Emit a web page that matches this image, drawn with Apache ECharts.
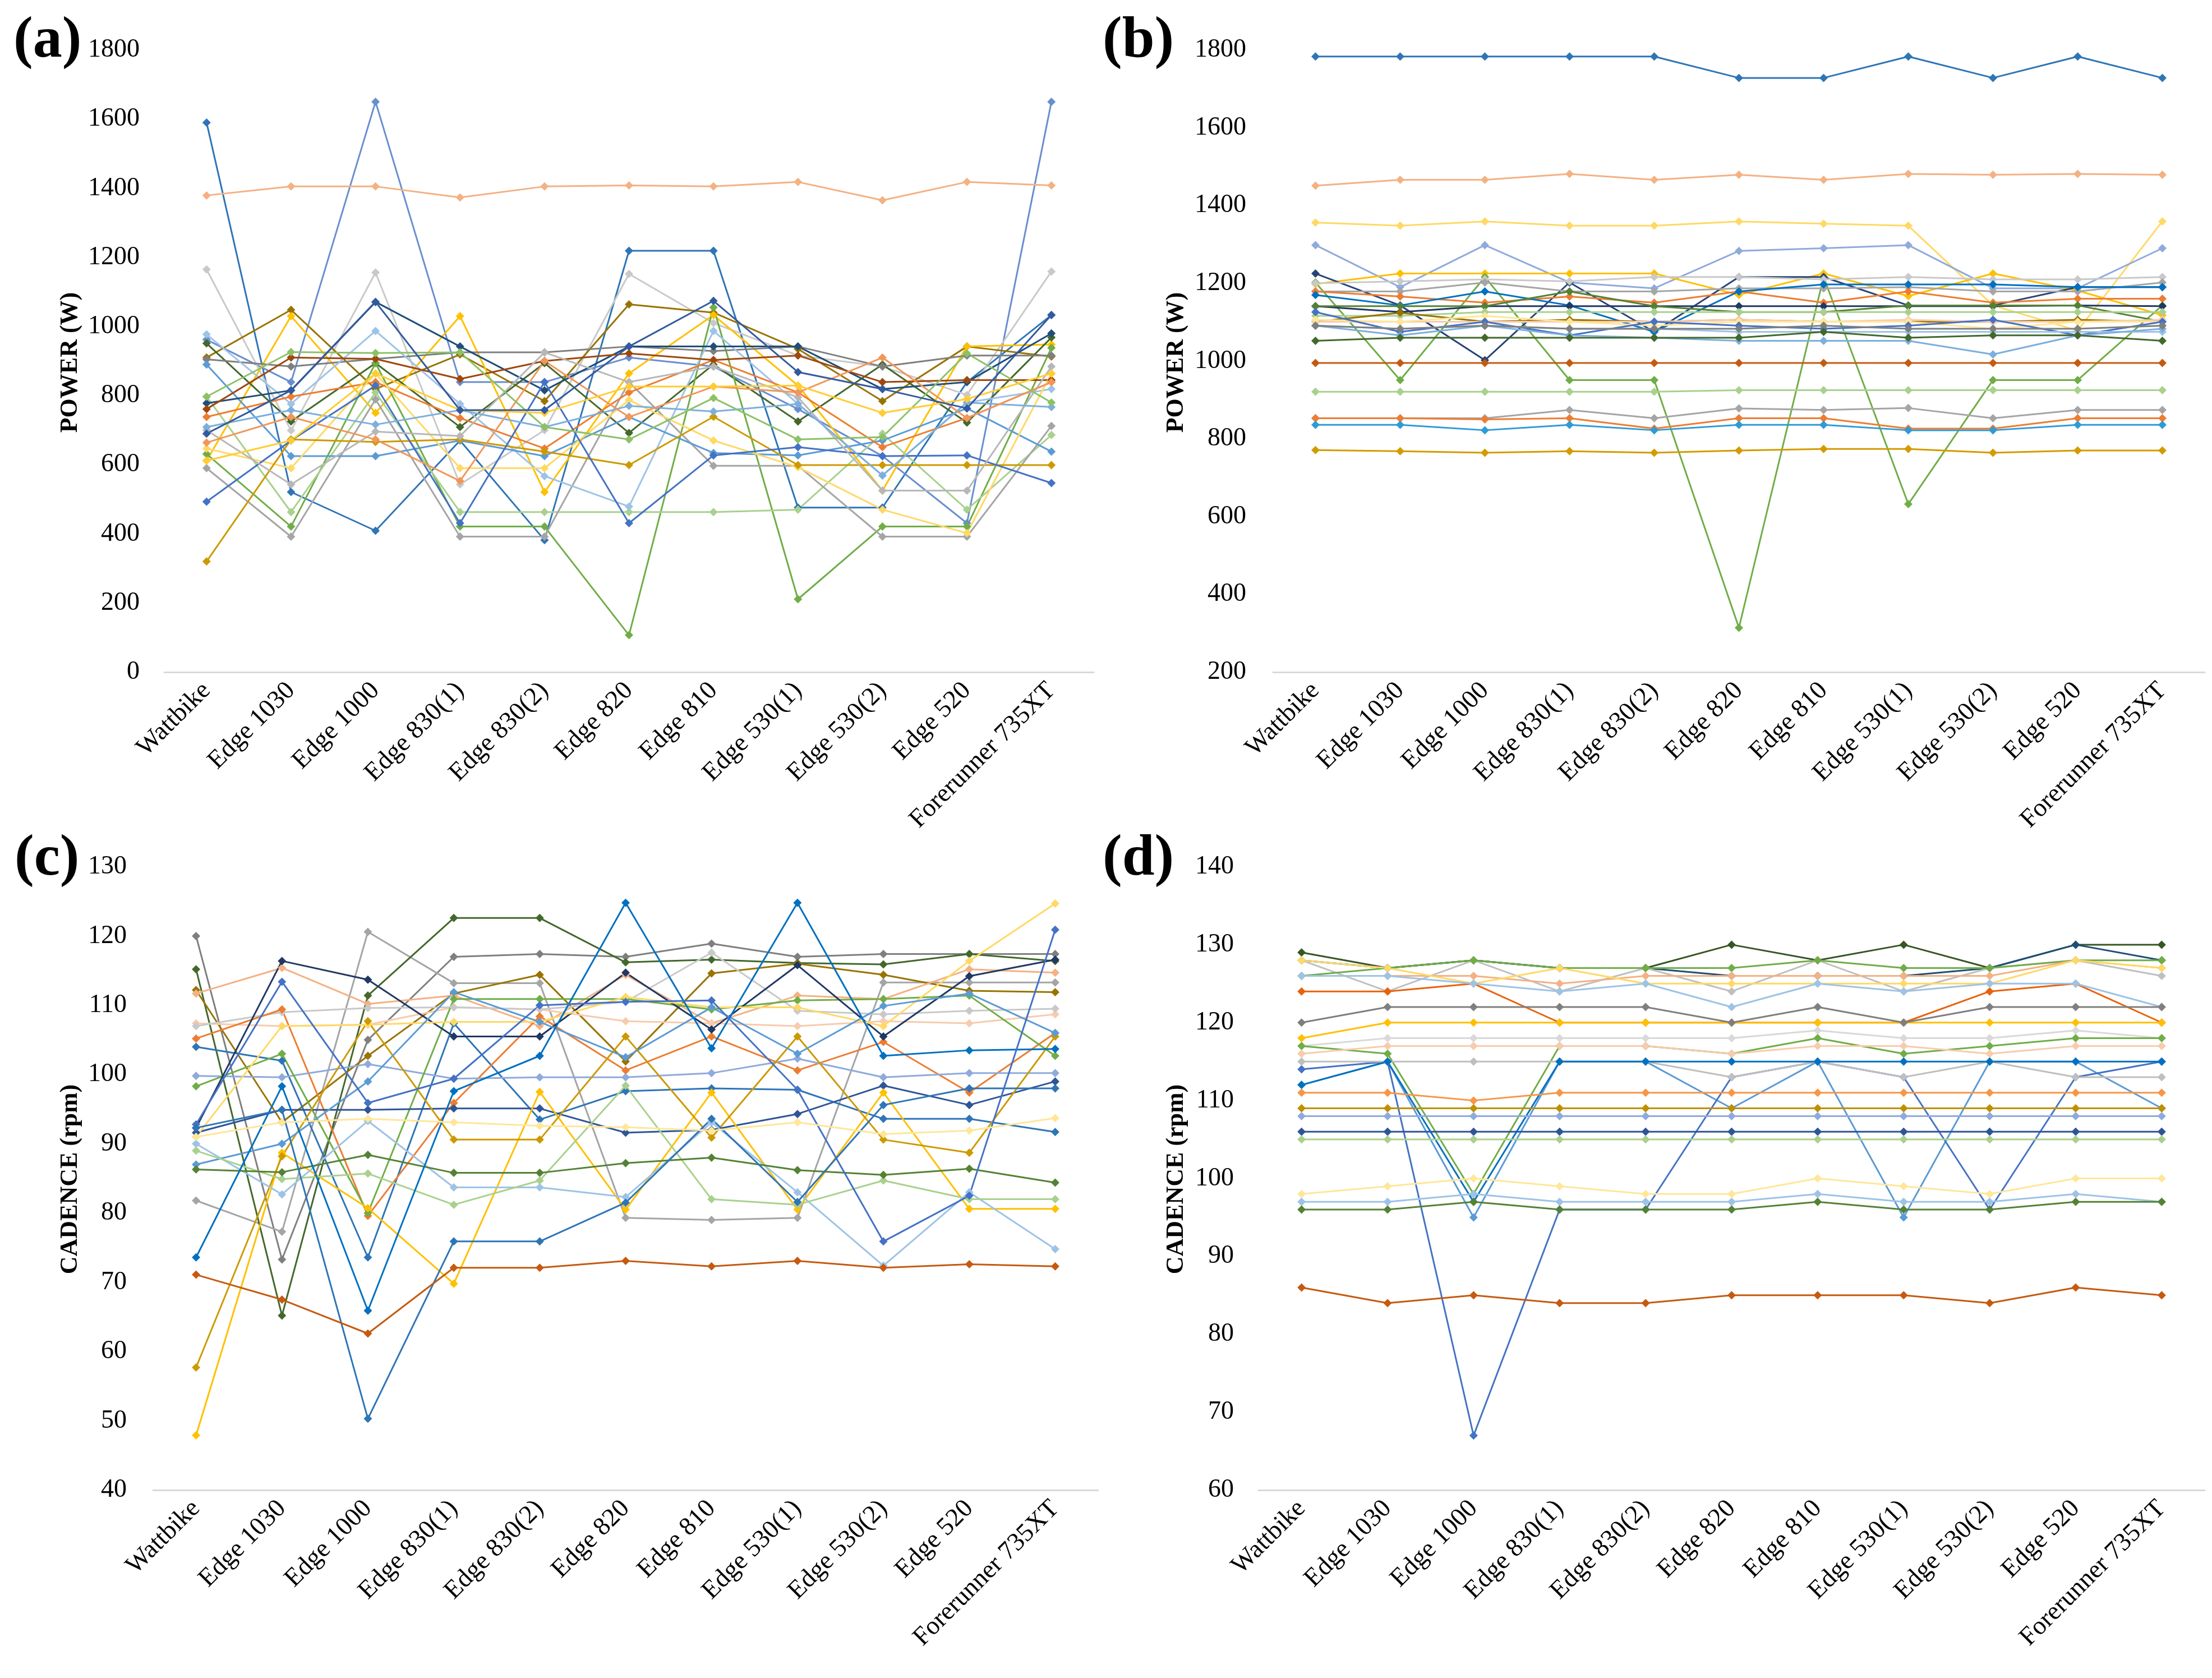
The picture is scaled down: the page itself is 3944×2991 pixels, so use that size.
<!DOCTYPE html>
<html><head><meta charset="utf-8">
<script src="https://cdn.jsdelivr.net/npm/echarts@6/dist/echarts.min.js"></script>
<style>html,body{margin:0;padding:0;background:#fff}#c{width:3944px;height:2991px}</style>
</head><body><div id="c"></div>
<script>
const categories = ["Wattbike","Edge 1030","Edge 1000","Edge 830(1)","Edge 830(2)","Edge 820","Edge 810","Edge 530(1)","Edge 530(2)","Edge 520","Forerunner 735XT"];

const powerTicksA = [0,1800,200];
const powerTicksB = [200,1800,200];
const cadenceTicksC = [40,130,10];
const cadenceTicksD = [60,140,10];

const powerA = [
[1590,521,409,670,382,1219,1219,476,476,839,1033],
[962,839,1650,839,839,910,884,761,625,431,1650],
[1379,1405,1405,1373,1405,1408,1405,1418,1365,1418,1408],
[1165,699,1156,543,700,1152,1010,916,884,802,1159],
[910,1048,819,919,784,1064,1040,935,784,942,913],
[612,1030,750,1030,521,864,1033,829,525,942,948],
[951,725,894,709,894,692,890,725,890,722,968],
[631,421,894,421,421,107,1055,211,421,421,938],
[797,463,809,463,463,463,463,470,690,470,686],
[905,884,906,925,925,942,929,942,884,916,916],
[590,392,789,392,392,839,597,597,392,392,712],
[977,776,987,776,567,479,987,776,569,780,819],
[890,625,625,670,625,738,634,627,670,763,638],
[738,797,839,735,647,809,903,809,651,735,839],
[778,815,1071,942,815,942,942,942,819,839,980],
[761,910,906,848,900,922,903,916,839,845,845],
[647,590,864,590,590,787,670,593,470,402,864],
[320,673,666,673,638,599,739,599,599,599,599],
[493,670,829,431,839,431,627,651,625,627,547],
[700,543,696,683,925,839,884,795,525,525,884],
[709,758,716,758,709,770,754,776,569,780,767],
[664,738,673,553,900,738,826,809,910,735,839],
[797,926,923,925,709,673,793,673,680,922,780],
[612,670,864,758,750,826,826,829,750,790,864],
[690,815,1071,758,758,942,1074,868,819,763,1033]
];
const colorsA = ["#2E75B6","#698ED0","#F4B183","#C9C9C9","#997300","#FFC000","#43682B","#70AD47","#A9D18E","#7F7F7F","#A5A5A5","#9DC3E6","#5B9BD5","#ED7D31","#1F4E79","#9E480E","#FFD966","#CC9A00","#4472C4","#B7B7B7","#7CAFDD","#F1975A","#8CC168","#FFCD33","#335AA1"];

const powerB = [
[1783,1783,1783,1783,1783,1728,1728,1783,1728,1783,1728],
[1451,1466,1466,1481,1466,1479,1466,1481,1479,1481,1479],
[1356,1348,1359,1348,1348,1359,1353,1348,1143,1078,1359],
[1298,1190,1298,1202,1187,1283,1290,1298,1187,1187,1290],
[1198,1225,1225,1225,1225,1170,1225,1167,1225,1181,1118],
[1202,951,1216,951,951,314,1216,632,951,951,1143],
[1225,1143,1002,1202,1075,1216,1216,1143,1143,1190,1190],
[1200,1205,1210,1205,1216,1216,1210,1216,1210,1210,1216],
[1179,1179,1202,1179,1179,1187,1187,1190,1179,1179,1202],
[1179,1166,1150,1166,1150,1179,1150,1179,1150,1160,1160],
[1170,1143,1179,1143,1075,1179,1197,1197,1197,1190,1190],
[1141,1126,1141,1141,1141,1141,1141,1141,1141,1143,1141],
[1141,1141,1141,1179,1141,1126,1126,1143,1143,1143,1101],
[1116,1116,1126,1126,1126,1126,1126,1126,1126,1126,1126],
[1101,1124,1101,1106,1101,1106,1101,1101,1101,1106,1101],
[1101,1101,1101,1101,1101,1106,1101,1106,1101,1101,1106],
[1106,1101,1116,1101,1091,1101,1101,1101,1083,1101,1101],
[1126,1075,1101,1066,1101,1091,1083,1091,1106,1066,1101],
[1091,1083,1091,1083,1083,1075,1075,1075,1075,1075,1075],
[1091,1066,1091,1066,1060,1052,1052,1052,1017,1066,1083],
[1091,1083,1091,1083,1083,1083,1091,1083,1083,1083,1091],
[1052,1060,1060,1060,1060,1060,1075,1060,1066,1066,1052],
[995,995,995,995,995,995,995,995,995,995,995],
[921,921,921,921,921,925,925,925,925,925,925],
[853,853,853,874,853,878,874,879,853,874,874],
[853,853,850,853,826,853,853,826,826,853,853],
[836,836,822,836,822,836,836,822,822,836,836],
[771,768,764,768,764,770,774,774,764,770,770]
];
const colorsB = ["#2E75B6","#F4B183","#FFD966","#8FAADC","#FFC000","#70AD47","#264478","#C9C9C9","#A5A5A5","#ED7D31","#0070C0","#203864","#548235","#A9D18E","#997300","#F8CBAD","#FFE699","#4472C4","#9DC3E6","#7CAFDD","#7F7F7F","#43682B","#C55A11","#A9D18E","#A5A5A5","#ED7D31","#2E9BD6","#D49B00"];

const cadenceC = [
[120,73.3,105,117,117.4,117,118.9,117,117.4,117.4,117.4],
[81.8,77.3,120.6,113.2,113.2,79.3,79,79.3,113.3,113.3,113.3],
[115.2,65.2,111.4,122.6,122.6,116.2,116.6,116.1,115.9,117.4,116.4],
[112.2,93.1,102.7,111.7,114.4,101.9,114.6,116,114.4,112.1,111.9],
[111.7,115.4,110.2,111.4,107,114.4,107.4,111.4,110.9,115.2,114.7],
[107.4,107,107.2,109.7,109.4,107.7,107.4,107,107.7,107.4,108.7],
[107,109,109.6,109.7,109.4,110.5,117.6,109.2,108.7,109.2,109.5],
[104,102,73.6,107.4,93.5,97.6,98,97.8,93.6,93.6,91.7],
[105.2,109.4,79.6,95.9,108.4,100.6,105.5,100.6,104.7,97.4,106],
[99.8,99.6,101.5,99.4,99.6,99.6,100.2,102.3,99.6,100.2,100.2],
[98.3,103,80,110.9,110.9,110.9,109.4,110.7,110.9,111.4,102.7],
[92.3,116.4,113.7,105.5,105.5,114.7,106.5,115.8,105.5,114.2,116.6],
[91.6,94.9,94.9,95.1,95.1,91.6,92,94.3,98.4,95.6,99],
[47.9,88.7,80.7,69.8,97.5,80.5,97.4,80.5,97.4,80.6,80.6],
[91,107,107.2,107.6,107.6,111.2,109.7,109.7,107,116.4,124.7],
[57.7,88.2,107.7,90.6,90.6,105.5,90.9,105.5,90.6,88.7,105.5],
[90,82.7,93.3,83.7,83.7,82.3,93.1,83,72.4,83,74.8],
[87,90,99,111.9,107.6,102.5,109.7,103,109.9,111.7,106],
[89,84.9,85.7,81.2,84.7,98.4,82,81.2,84.7,82,82],
[86.3,85.9,88.4,85.8,85.8,87.2,88,86.2,85.5,86.4,84.4],
[73.6,98.3,65.9,97.6,102.7,124.8,103.8,124.8,102.7,103.5,103.7],
[92.8,113.4,95.9,99.4,110,110.5,110.7,97.8,75.9,82.5,120.9],
[92.3,94.9,50.3,75.9,75.9,81.5,93.6,81.6,95.6,98,98],
[71.1,67.5,62.6,72.1,72.1,73.1,72.3,73.1,72.1,72.6,72.3],
[91,93.1,93.6,93.1,92.6,92.4,91.9,93.1,91.4,91.9,93.7]
];
const colorsC = ["#7F7F7F","#A5A5A5","#43682B","#997300","#F4B183","#F8CBAD","#C9C9C9","#2E75B6","#ED7D31","#8FAADC","#70AD47","#203864","#2F5597","#FFC000","#FFD966","#CC9A00","#9DC3E6","#5B9BD5","#A9D18E","#548235","#0070C0","#4472C4","#2E75B6","#C55A11","#FFE699"];

const cadenceD = [
[129,127,128,127,127,130,128,130,127,130,130],
[128,127,128,127,127,126,126,126,127,130,128],
[128,124,128,124,127,124,128,124,127,128,126],
[126,127,128,127,127,127,128,127,127,128,128],
[126,126,126,125,126,126,126,126,126,128,127],
[124,124,125,120,120,120,120,120,124,125,120],
[118,120,120,120,120,120,120,120,120,120,120],
[128,127,125,127,125,125,125,125,125,128,127],
[126,126,125,124,125,122,125,124,125,125,122],
[120,122,122,122,122,120,122,120,122,122,122],
[117,118,118,118,118,118,119,118,118,119,118],
[117,116,98,117,117,116,118,116,117,118,118],
[116,117,117,117,117,116,117,117,116,117,117],
[112,115,95,115,115,109,115,95,115,115,109],
[114,115,67,96,96,113,115,113,96,113,115],
[115,115,115,115,115,113,115,113,115,113,113],
[112,115,97,115,115,115,115,115,115,115,115],
[111,111,110,111,111,111,111,111,111,111,111],
[109,109,109,109,109,109,109,109,109,109,109],
[108,108,108,108,108,108,108,108,108,108,108],
[106,106,106,106,106,106,106,106,106,106,106],
[105,105,105,105,105,105,105,105,105,105,105],
[98,99,100,99,98,98,100,99,98,100,100],
[97,97,98,97,97,97,98,97,97,98,97],
[96,96,97,96,96,96,97,96,96,97,97],
[86,84,85,84,84,85,85,85,84,86,85]
];
const colorsD = ["#375623","#1F4E79","#BFBFBF","#70AD47","#F4B183","#E8620C","#FFC000","#FFD966","#9DC3E6","#7F7F7F","#D9D9D9","#70AD47","#F8CBAD","#5B9BD5","#4472C4","#BFBFBF","#0070C0","#F79646","#BF9000","#8FAADC","#2F5597","#A9D18E","#FFE699","#9DC3E6","#548235","#C55A11"];

const chart = echarts.init(document.getElementById('c'), null, {renderer:'canvas'});
const FONT = "Liberation Serif";
const grids = [
  {left:293, top:89, width:1657, height:1109},
  {left:2270, top:89, width:1661, height:1109},
  {left:273, top:1545, width:1685, height:1111},
  {left:2244, top:1545, width:1687, height:1111}
];
const ticks = [powerTicksA, powerTicksB, cadenceTicksC, cadenceTicksD];
const datasets = [powerA, powerB, cadenceC, cadenceD];
const palettes = [colorsA, colorsB, colorsC, colorsD];
const labelMargins = [44, 48, 47, 44];

const xAxis = [], yAxis = [], series = [];
grids.forEach((g, i) => {
  xAxis.push({
    type:'category', gridIndex:i, data:categories, boundaryGap:true,
    axisLine:{show:true, lineStyle:{color:'#D9D9D9', width:3}},
    axisTick:{show:false},
    axisLabel:{interval:0, rotate:45, fontFamily:FONT, fontSize:46, color:'#000', margin:26}
  });
  yAxis.push({
    type:'value', gridIndex:i, min:ticks[i][0], max:ticks[i][1], interval:ticks[i][2],
    splitLine:{show:false}, axisLine:{show:false}, axisTick:{show:false},
    axisLabel:{fontFamily:FONT, fontSize:46, color:'#000', margin:labelMargins[i], formatter:(v)=>String(v)}
  });
  datasets[i].forEach((vals, k) => {
    const col = palettes[i][k % palettes[i].length];
    series.push({
      type:'line', xAxisIndex:i, yAxisIndex:i, data:vals,
      symbol:'diamond', symbolSize:15, showSymbol:true,
      lineStyle:{width:3, color:col}, itemStyle:{color:col},
      emphasis:{disabled:true}, animation:false, z:2
    });
  });
});

const letterFont = 'bold 104px "Liberation Serif"';
const graphic = [
  {type:'text', left:24, top:22, style:{text:'(a)', font:letterFont, fill:'#000'}},
  {type:'text', left:1966, top:22, style:{text:'(b)', font:letterFont, fill:'#000'}},
  {type:'text', left:26, top:1480, style:{text:'(c)', font:letterFont, fill:'#000'}},
  {type:'text', left:1966, top:1480, style:{text:'(d)', font:letterFont, fill:'#000'}},
  {type:'text', x:126, y:646, rotation:Math.PI/2, style:{text:'POWER (W)', font:'bold 44px "Liberation Serif"', fill:'#000', align:'center', verticalAlign:'middle'}},
  {type:'text', x:2098, y:646, rotation:Math.PI/2, style:{text:'POWER (W)', font:'bold 44px "Liberation Serif"', fill:'#000', align:'center', verticalAlign:'middle'}},
  {type:'text', x:126, y:2102, rotation:Math.PI/2, style:{text:'CADENCE (rpm)', font:'bold 44px "Liberation Serif"', fill:'#000', align:'center', verticalAlign:'middle'}},
  {type:'text', x:2098, y:2102, rotation:Math.PI/2, style:{text:'CADENCE (rpm)', font:'bold 44px "Liberation Serif"', fill:'#000', align:'center', verticalAlign:'middle'}}
];

chart.setOption({animation:false, backgroundColor:'#fff', grid:grids, xAxis, yAxis, series, graphic});
</script></body></html>
